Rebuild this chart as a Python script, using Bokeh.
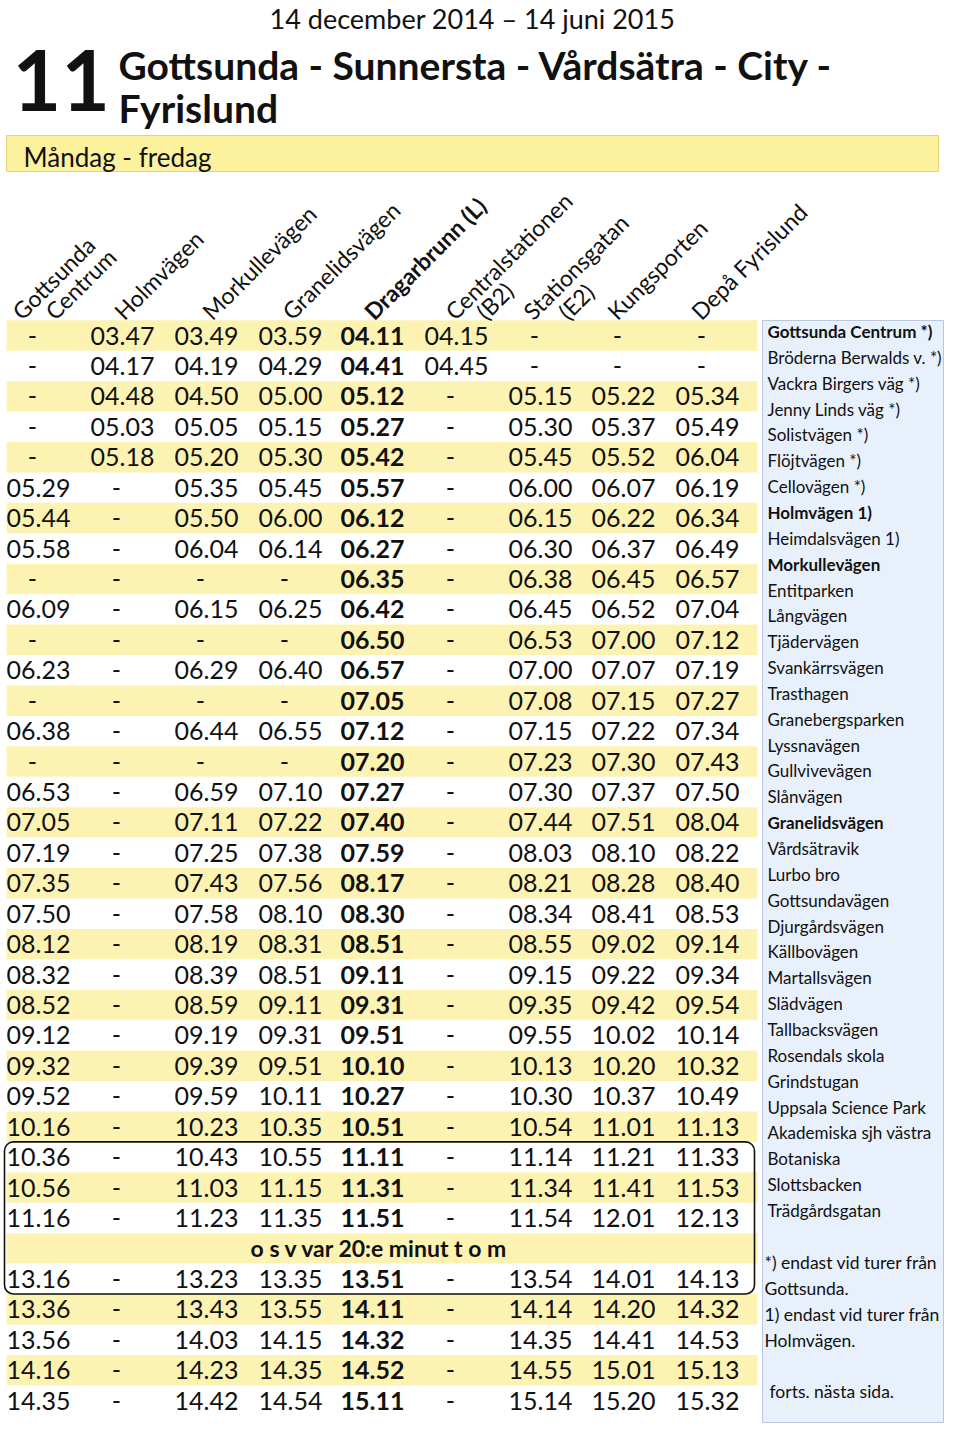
import numpy as np
from bokeh.plotting import figure
from bokeh.models import Range1d
from bokeh.embed import file_html
from bokeh.resources import INLINE
from bokeh.core.properties import value

# ---------------- data ----------------
route_number = "11"
title_lines = ["Gottsunda - Sunnersta - Vårdsätra - City -", "Fyrislund"]
period = "14 december 2014 \u2013 14 juni 2015"
day_label = "Måndag - fredag"

header_lines = [["Gottsunda", "Centrum"], ["Holmvägen"], ["Morkullevägen"],
                ["Granelidsvägen"], ["Dragarbrunn (L)"], ["Centralstationen", "(B2)"],
                ["Stationsgatan", "(E2)"], ["Kungsporten"], ["Depå Fyrislund"]]
header_bold = [False, False, False, False, True, False, False, False, False]

gottsunda_centrum = ["-", "-", "-", "-", "-", "05.29", "05.44", "05.58", "-", "06.09", "-", "06.23",
                     "-", "06.38", "-", "06.53", "07.05", "07.19", "07.35", "07.50", "08.12", "08.32",
                     "08.52", "09.12", "09.32", "09.52", "10.16", "10.36", "10.56", "11.16",
                     "13.16", "13.36", "13.56", "14.16", "14.35"]
holmvagen = ["03.47", "04.17", "04.48", "05.03", "05.18"] + ["-"] * 30
morkullevagen = ["03.49", "04.19", "04.50", "05.05", "05.20", "05.35", "05.50", "06.04", "-", "06.15",
                 "-", "06.29", "-", "06.44", "-", "06.59", "07.11", "07.25", "07.43", "07.58", "08.19",
                 "08.39", "08.59", "09.19", "09.39", "09.59", "10.23", "10.43", "11.03", "11.23",
                 "13.23", "13.43", "14.03", "14.23", "14.42"]
granelidsvagen = ["03.59", "04.29", "05.00", "05.15", "05.30", "05.45", "06.00", "06.14", "-", "06.25",
                  "-", "06.40", "-", "06.55", "-", "07.10", "07.22", "07.38", "07.56", "08.10", "08.31",
                  "08.51", "09.11", "09.31", "09.51", "10.11", "10.35", "10.55", "11.15", "11.35",
                  "13.35", "13.55", "14.15", "14.35", "14.54"]
dragarbrunn = ["04.11", "04.41", "05.12", "05.27", "05.42", "05.57", "06.12", "06.27", "06.35", "06.42",
               "06.50", "06.57", "07.05", "07.12", "07.20", "07.27", "07.40", "07.59", "08.17", "08.30",
               "08.51", "09.11", "09.31", "09.51", "10.10", "10.27", "10.51", "11.11", "11.31", "11.51",
               "13.51", "14.11", "14.32", "14.52", "15.11"]
centralstationen = ["04.15", "04.45"] + ["-"] * 33
stationsgatan = ["-", "-", "05.15", "05.30", "05.45", "06.00", "06.15", "06.30", "06.38", "06.45",
                 "06.53", "07.00", "07.08", "07.15", "07.23", "07.30", "07.44", "08.03", "08.21", "08.34",
                 "08.55", "09.15", "09.35", "09.55", "10.13", "10.30", "10.54", "11.14", "11.34", "11.54",
                 "13.54", "14.14", "14.35", "14.55", "15.14"]
kungsporten = ["-", "-", "05.22", "05.37", "05.52", "06.07", "06.22", "06.37", "06.45", "06.52",
               "07.00", "07.07", "07.15", "07.22", "07.30", "07.37", "07.51", "08.10", "08.28", "08.41",
               "09.02", "09.22", "09.42", "10.02", "10.20", "10.37", "11.01", "11.21", "11.41", "12.01",
               "14.01", "14.20", "14.41", "15.01", "15.20"]
depa_fyrislund = ["-", "-", "05.34", "05.49", "06.04", "06.19", "06.34", "06.49", "06.57", "07.04",
                  "07.12", "07.19", "07.27", "07.34", "07.43", "07.50", "08.04", "08.22", "08.40", "08.53",
                  "09.14", "09.34", "09.54", "10.14", "10.32", "10.49", "11.13", "11.33", "11.53", "12.13",
                  "14.13", "14.32", "14.53", "15.13", "15.32"]
columns = [gottsunda_centrum, holmvagen, morkullevagen, granelidsvagen, dragarbrunn,
           centralstationen, stationsgatan, kungsporten, depa_fyrislund]

interval_note = "o s v var 20:e minut t o m"
interval_after = 30             # note is inserted after this many trips
boxed_trips = [27, 28, 29, 30]  # trips framed together with the note

stop_list = ["Gottsunda Centrum *)", "Bröderna Berwalds v. *)", "Vackra Birgers väg *)",
             "Jenny Linds väg *)", "Solistvägen *)", "Flöjtvägen *)", "Cellovägen *)",
             "Holmvägen 1)", "Heimdalsvägen 1)", "Morkullevägen", "Entitparken", "Långvägen",
             "Tjädervägen", "Svankärrsvägen", "Trasthagen", "Granebergsparken", "Lyssnavägen",
             "Gullvivevägen", "Slånvägen", "Granelidsvägen", "Vårdsätravik", "Lurbo bro",
             "Gottsundavägen", "Djurgårdsvägen", "Källbovägen", "Martallsvägen", "Slädvägen",
             "Tallbacksvägen", "Rosendals skola", "Grindstugan", "Uppsala Science Park",
             "Akademiska sjh västra", "Botaniska", "Slottsbacken", "Trädgårdsgatan"]
stop_bold = ["Gottsunda Centrum *)", "Holmvägen 1)", "Morkullevägen", "Granelidsvägen"]
footnotes = ["*) endast vid turer från", "Gottsunda.", "1) endast vid turer från", "Holmvägen."]
continued = "forts. nästa sida."

# ---------------- layout / style ----------------
FONT = "Lato"
INK = "#111111"
STRIPE = "#fcf3b3"
W, H = 944, 1423
col_x = [38, 122, 206, 290, 372, 456, 540, 623, 707]
# start offsets (relative to column centre) of each rotated header line
header_off = [[-25, 8], [-7], [-3], [-7], [-7], [-10, 21], [-16, 19], [-15], [-15]]
row0, row_h = 335.0, 30.43
MID = 0.3225  # distance of the 'middle' anchor above the baseline, in em

p = figure(width=W, height=H, x_range=Range1d(0, W), y_range=Range1d(H, 0),
           output_backend="svg", toolbar_location=None, min_border=0,
           x_axis_location=None, y_axis_location=None)
p.xgrid.visible = False
p.ygrid.visible = False
p.outline_line_color = None


def txt(x, y, t, size, bold=False, align="left", angle=0.0):
    p.text(x=x, y=y, text=t, angle=angle, text_font=value(FONT), text_font_size=f"{size}px",
           text_font_style="bold" if bold else "normal", text_align=align,
           text_baseline="middle", text_color=INK)


# header texts
txt([472], [18], [period], 27, align="center")
txt([12], [80], [route_number], 84, bold=True)
txt([118, 118], [64, 107], title_lines, 39, bold=True)

p.quad(left=[6], right=[938], top=[135], bottom=[171], fill_color="#fcf29e",
       line_color="#e3d47c", line_width=1)
txt([23], [165 - MID * 26], [day_label], 26)

# display rows
n_rows = len(gottsunda_centrum) + 1
row_y = [row0 + i * row_h for i in range(n_rows)]
trip_rows = [i if i < interval_after else i + 1 for i in range(len(gottsunda_centrum))]

stripe_rows = [i for i in range(n_rows) if i % 2 == 0]
p.quad(left=6, right=757, top=[row_y[i] - row_h / 2 for i in stripe_rows],
       bottom=[row_y[i] + row_h / 2 for i in stripe_rows], fill_color=STRIPE, line_color=None)

# rotated column headers
HS = 23
shift = MID * HS * np.sqrt(0.5)
for bold in (False, True):
    hx, hy, ht = [], [], []
    for c, lines in enumerate(header_lines):
        if header_bold[c] != bold:
            continue
        for ln, off in zip(lines, header_off[c]):
            hx.append(col_x[c] + off - shift + 8)
            hy.append(320 - shift)
            ht.append(ln)
    txt(hx, hy, ht, HS, bold=bold, angle=np.pi / 4)

# times
for c, col in enumerate(columns):
    xs = [col_x[c] - (6 if t == "-" else 0) for t in col]
    ys = [row_y[trip_rows[k]] for k in range(len(col))]
    txt(xs, ys, col, 25, bold=(c == 4), align="center")

txt([379], [row_y[interval_after]], [interval_note], 23, bold=True, align="center")

# frame around the interval block
top_r = trip_rows[boxed_trips[0]]
bot_r = trip_rows[boxed_trips[-1]]
p.quad(left=[4], right=[754], top=[row_y[top_r] - row_h / 2], bottom=[row_y[bot_r] + row_h / 2],
       fill_color=None, line_color=INK, line_width=1.6, border_radius=9)

# stop list panel
p.quad(left=[762], right=[943], top=[320], bottom=[1422], fill_color="#e8f0fb",
       line_color="#b6c7df", line_width=1)
sy = [331 + i * 25.85 for i in range(len(stop_list))]
for bold in (False, True):
    idx = [i for i, s in enumerate(stop_list) if (s in stop_bold) == bold]
    txt([767] * len(idx), [sy[i] for i in idx], [stop_list[i] for i in idx], 17, bold=bold)
txt([764] * 4, [1262 + i * 26 for i in range(4)], footnotes, 17.5)
txt([769], [1391], [continued], 17.5)

open("out.html", "w").write(file_html(p, INLINE))
